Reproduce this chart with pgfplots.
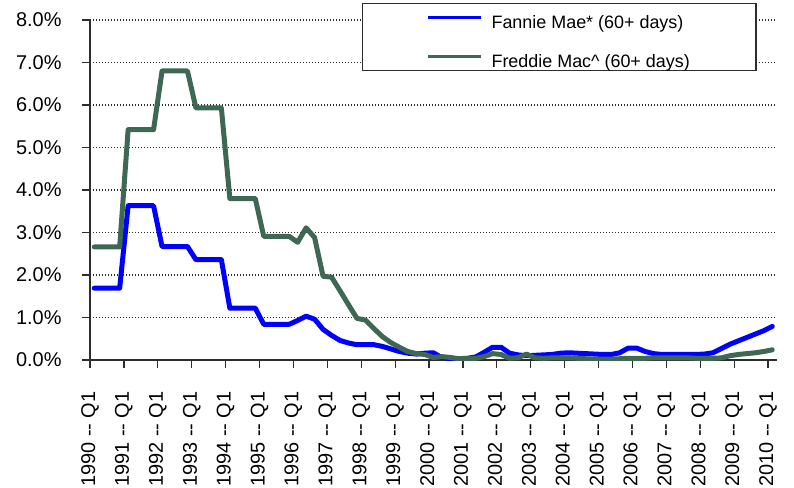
\documentclass[border=0pt]{standalone}
\usepackage{fontspec}
\setmainfont{Liberation Sans}
\usepackage{pgfplots}
\pgfplotsset{compat=1.18}
\definecolor{fannie}{RGB}{0,0,255}
\definecolor{freddie}{RGB}{62,104,84}
\definecolor{axisgray}{RGB}{45,45,45}

\begin{document}
\begin{tikzpicture}
\path[use as bounding box] (-90bp,-128bp) rectangle (704bp,360bp);
\begin{axis}[
  scale only axis,
  width=686.5bp, height=340bp,
  xmin=-0.5, xmax=80.5,
  ymin=0, ymax=8,
  axis x line=bottom, axis y line=left,
  axis line style={-, line width=1.5bp, color=axisgray},
  tick align=outside,
  major tick length=8bp,
  tick style={line width=1.2bp, color=axisgray},
  xtick={-0.5,3.5,7.5,11.5,15.5,19.5,23.5,27.5,31.5,35.5,39.5,43.5,47.5,51.5,55.5,59.5,63.5,67.5,71.5,75.5,79.5},
  xticklabels={1990 -{}- Q1,1991 -{}- Q1,1992 -{}- Q1,1993 -{}- Q1,1994 -{}- Q1,1995 -{}- Q1,1996 -{}- Q1,1997 -{}- Q1,1998 -{}- Q1,1999 -{}- Q1,2000 -{}- Q1,2001 -{}- Q1,2002 -{}- Q1,2003 -{}- Q1,2004 -{}- Q1,2005 -{}- Q1,2006 -{}- Q1,2007 -{}- Q1,2008 -{}- Q1,2009 -{}- Q1,2010 -{}- Q1},
  xticklabel style={rotate=90, anchor=east, font=\fontsize{20}{24}\selectfont},
  xticklabel shift=20bp,
  ytick={0,1,2,3,4,5,6,7,8},
  yticklabels={0.0\%,1.0\%,2.0\%,3.0\%,4.0\%,5.0\%,6.0\%,7.0\%,8.0\%},
  yticklabel style={font=\fontsize{20}{24}\selectfont},
  yticklabel shift=17bp,
  ymajorgrids,
  grid style={line width=1.2bp, color=axisgray, dash pattern=on 1.3bp off 1.7bp},
  legend style={at={(0.971,1.05)}, anchor=north east, draw=axisgray, line width=1.5bp,
    fill=white, font=\fontsize{18}{21}\selectfont, inner xsep=64bp, inner ysep=1.5bp,
    row sep=14bp, column sep=7bp,
    nodes={inner sep=2bp, text height=21bp, text depth=0bp}},
  legend cell align=left,
  legend image code/.code={\draw[#1, line width=3bp, line cap=butt] (0bp,0bp) -- (53bp,0bp);},
]

\addplot[color=fannie, line width=5bp, line join=round, line cap=round]
coordinates{
(0,1.69) (1,1.69) (2,1.69) (3,1.69)
(4,3.63) (5,3.63) (6,3.63) (7,3.63)
(8,2.67) (9,2.67) (10,2.67) (11,2.67)
(12,2.36) (13,2.36) (14,2.36) (15,2.36)
(16,1.22) (17,1.22) (18,1.22) (19,1.22)
(20,0.84) (21,0.84) (22,0.84) (23,0.84)
(24,0.93) (25,1.03) (26,0.96) (27,0.72)
(28,0.58) (29,0.46) (30,0.40) (31,0.36)
(32,0.36) (33,0.36) (34,0.32) (35,0.26)
(36,0.20) (37,0.16) (38,0.14) (39,0.16)
(40,0.17) (41,0.06) (42,0.03) (43,0.03)
(44,0.04) (45,0.07) (46,0.18) (47,0.30)
(48,0.30) (49,0.16) (50,0.12) (51,0.10)
(52,0.11) (53,0.12) (54,0.13) (55,0.16)
(56,0.17) (57,0.16) (58,0.15) (59,0.14)
(60,0.13) (61,0.13) (62,0.17) (63,0.28)
(64,0.28) (65,0.20) (66,0.15) (67,0.13)
(68,0.13) (69,0.13) (70,0.13) (71,0.13)
(72,0.14) (73,0.17) (74,0.27) (75,0.37)
(76,0.45) (77,0.53) (78,0.61) (79,0.69)
(80,0.79)
};

\addplot[color=freddie, line width=5bp, line join=round, line cap=round]
coordinates{
(0,2.66) (1,2.66) (2,2.66) (3,2.66)
(4,5.42) (5,5.42) (6,5.42) (7,5.42)
(8,6.80) (9,6.80) (10,6.80) (11,6.80)
(12,5.93) (13,5.93) (14,5.93) (15,5.93)
(16,3.80) (17,3.80) (18,3.80) (19,3.80)
(20,2.91) (21,2.91) (22,2.91) (23,2.91)
(24,2.77) (25,3.11) (26,2.88) (27,1.97)
(28,1.95) (29,1.63) (30,1.30) (31,0.98)
(32,0.94) (33,0.74) (34,0.55) (35,0.41)
(36,0.30) (37,0.20) (38,0.15) (39,0.13)
(40,0.06) (41,0.08) (42,0.06) (43,0.03)
(44,0.03) (45,0.04) (46,0.08) (47,0.15)
(48,0.13) (49,0.04) (50,0.05) (51,0.14)
(52,0.05) (53,0.04) (54,0.05) (55,0.05)
(56,0.05) (57,0.04) (58,0.03) (59,0.02)
(60,0.02) (61,0.02) (62,0.03) (63,0.04)
(64,0.04) (65,0.04) (66,0.05) (67,0.05)
(68,0.05) (69,0.05) (70,0.05) (71,0.04)
(72,0.04) (73,0.04) (74,0.05) (75,0.10)
(76,0.13) (77,0.15) (78,0.17) (79,0.20)
(80,0.24)
};
\legend{Fannie Mae* (60+ days), Freddie Mac\^{} (60+ days)}

\end{axis}
\end{tikzpicture}
\end{document}
